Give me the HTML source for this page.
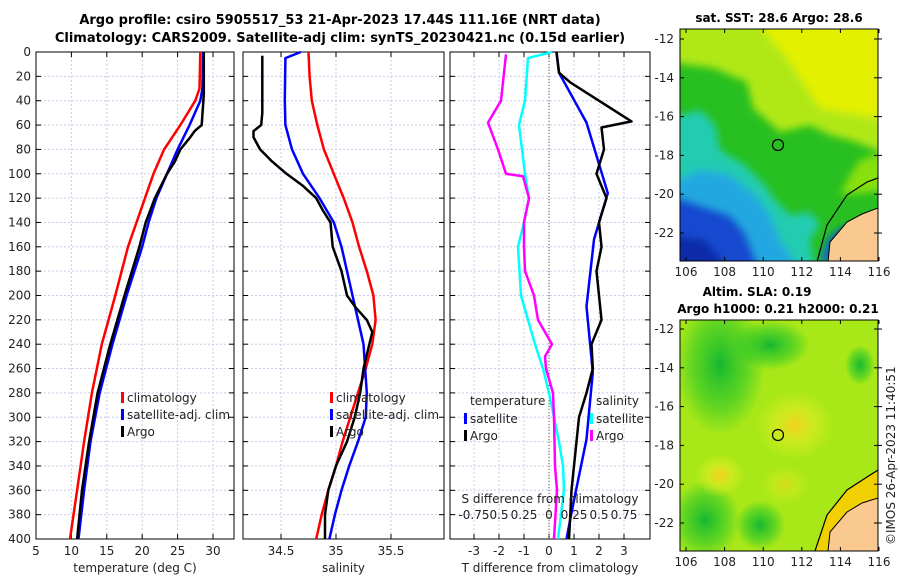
<!DOCTYPE html>
<html><head><meta charset="utf-8"><style>
body{margin:0;background:#fff}
svg{display:block;font-family:"DejaVu Sans","Liberation Sans",sans-serif}
</style></head><body>
<svg id="c" width="900" height="580" xmlns="http://www.w3.org/2000/svg">
<defs>
 <radialGradient id="yb"><stop offset="0" stop-color="#f4d020"/><stop offset="0.5" stop-color="#d8ec20" stop-opacity="0.7"/><stop offset="1" stop-color="#d8ec20" stop-opacity="0"/></radialGradient>
 <radialGradient id="gb"><stop offset="0" stop-color="#14b830"/><stop offset="0.6" stop-color="#30c828" stop-opacity="0.6"/><stop offset="1" stop-color="#30c828" stop-opacity="0"/></radialGradient>
 <filter id="blur" x="-10%" y="-10%" width="120%" height="120%"><feGaussianBlur stdDeviation="4"/></filter>
 <clipPath id="m1c"><rect x="680" y="29" width="198" height="232"/></clipPath>
 <clipPath id="m2c"><rect x="680" y="320" width="198" height="231"/></clipPath>
</defs>
<g id="titles">
 <text x="340" y="24" text-anchor="middle" font-size="13" font-weight="bold">Argo profile: csiro 5905517_53 21-Apr-2023 17.44S 111.16E (NRT data)</text>
 <text x="340" y="42" text-anchor="middle" font-size="13" font-weight="bold">Climatology: CARS2009. Satellite-adj clim: synTS_20230421.nc (0.15d earlier)</text>
</g>
<g id="p1"></g><g id="p2"></g><g id="p3"></g>
<g id="map1">
 <g clip-path="url(#m1c)">
  <rect x="670" y="20" width="220" height="250" fill="#28c020"/>
  <g filter="url(#blur)">
   <polygon points="670,20 890,20 890,155 850,140 830,135 810,125 780,132 753,108 747,82 713,68 670,62" fill="#b0e818"/>
   <polygon points="755,20 890,20 890,118 877,118 820,108 787,58" fill="#e4f000"/>
   <polygon points="890,150 860,160 850,175 840,195 890,190" fill="#88e010"/>
   <polygon points="670,118 700,110 715,125 720,150 745,165 765,185 775,200 790,215 810,212 820,225 810,240 815,270 670,270" fill="#22ccb0"/>
   <polygon points="670,185 700,170 730,175 755,195 770,215 780,240 800,270 670,270" fill="#22a8e0"/>
   <polygon points="670,195 700,205 730,215 745,232 760,270 670,270" fill="#1448d0"/>
   <polygon points="670,235 705,240 730,270 670,270" fill="#0a2aa8"/>
   <polygon points="820,262 828,238 845,225 850,240 830,262" fill="#1060d0"/>
  </g>
  <path d="M828,262 L830,242 L847,222 L862,214 L878,208 L878,262 Z" fill="#f9c98f"/>
  <path d="M828,262 L830,242 L847,222 L862,214 L878,208" fill="none" stroke="#000" stroke-width="1"/>
  <path d="M817,262 L827,225 L847,195 L867,182 L878,178" fill="none" stroke="#000" stroke-width="1.2"/>
 </g>
 <rect x="680" y="29" width="198" height="232" fill="none" stroke="#000"/>
 <circle cx="778" cy="145" r="5.5" fill="none" stroke="#000" stroke-width="1.2"/>
 <text x="779" y="22" text-anchor="middle" font-size="12" font-weight="bold">sat. SST: 28.6 Argo: 28.6</text>
</g>
<g id="map2">
 <g clip-path="url(#m2c)">
  <rect x="680" y="320" width="198" height="231" fill="#a8e818"/>
  <ellipse cx="720" cy="365" rx="45" ry="70" fill="url(#gb)"/>
  <ellipse cx="770" cy="345" rx="40" ry="25" fill="url(#gb)"/>
  <ellipse cx="705" cy="520" rx="35" ry="40" fill="url(#gb)"/>
  <ellipse cx="760" cy="525" rx="25" ry="25" fill="url(#gb)"/>
  <ellipse cx="860" cy="365" rx="15" ry="20" fill="url(#gb)"/>
  <ellipse cx="795" cy="425" rx="40" ry="35" fill="url(#yb)"/>
  <ellipse cx="720" cy="475" rx="25" ry="22" fill="url(#yb)"/>
  <ellipse cx="785" cy="485" rx="25" ry="20" fill="url(#yb)" opacity="0.6"/>
  <path d="M815,551 L827,515 L847,490 L867,477 L878,470 L878,551 Z" fill="#f0d000"/>
  <path d="M828,551 L830,532 L847,512 L862,503 L878,498 L878,551 Z" fill="#f9c98f"/>
  <path d="M828,551 L830,532 L847,512 L862,503 L878,498" fill="none" stroke="#000" stroke-width="1"/>
  <path d="M815,551 L827,515 L847,490 L867,477 L878,470" fill="none" stroke="#000" stroke-width="1.2"/>
 </g>
 <rect x="680" y="320" width="198" height="231" fill="none" stroke="#000"/>
 <circle cx="778" cy="435" r="5.5" fill="none" stroke="#000" stroke-width="1.2"/>
 <text x="757" y="296" text-anchor="middle" font-size="12" font-weight="bold">Altim. SLA: 0.19</text>
 <text x="778" y="313" text-anchor="middle" font-size="12" font-weight="bold">Argo h1000: 0.21 h2000: 0.21</text>
</g>
<g id="mapticks"></g>
<text transform="translate(895,545) rotate(-90)" font-size="12" fill="#222">©IMOS 26-Apr-2023 11:40:51</text>
</svg>
<script>
const depths=[0,20,40,60,80,100,120,140,160,180,200,220,240,260,280,300,320,340,360,380,400];
const tempClimD=[0,30,40,60,80,100,120,140,160,200,240,280,320,360,400];
const tempClim=[28.2,28.1,27.5,25.4,23.1,21.6,20.4,19.2,18.0,16.2,14.3,12.9,11.8,10.8,9.8];
const tempSatD=[0,30,40,60,80,100,120,140,160,200,240,280,320,360,400];
const tempSat=[28.6,28.5,28.2,26.7,25.0,23.5,22.0,20.9,20.0,17.8,15.8,14.0,12.7,11.8,11.0];
const tempArgoD=[0,35,60,65,70,80,90,100,120,140,160,200,240,280,320,360,400];
const tempArgo=[28.7,28.7,28.4,27.4,26.8,25.4,24.6,23.5,21.8,20.5,19.6,17.5,15.5,13.7,12.5,11.5,10.8];
const salClimD=[0,20,40,60,80,100,120,140,160,180,200,220,240,260,280,300,320,340,360,380,400];
const salClim=[34.75,34.76,34.78,34.83,34.89,34.98,35.07,35.15,35.21,35.28,35.34,35.36,35.33,35.27,35.2,35.13,35.06,35.0,34.93,34.87,34.82];
const salSatD=[0,5,40,60,80,100,120,140,160,180,200,240,280,300,320,340,360,380,400];
const salSat=[34.68,34.54,34.535,34.54,34.6,34.7,34.85,34.98,35.05,35.1,35.15,35.25,35.28,35.27,35.2,35.12,35.05,34.99,34.94];
const salArgoD=[3,50,60,65,70,80,90,100,110,120,130,140,160,180,200,210,220,230,260,280,300,320,340,360,380,400];
const salArgo=[34.33,34.33,34.32,34.25,34.25,34.31,34.42,34.55,34.7,34.82,34.88,34.95,34.97,35.05,35.1,35.18,35.28,35.33,35.25,35.22,35.17,35.1,35.0,34.93,34.9,34.9];
const dTSatD=[0,17,58,116,154,209,263,318,373,400];
const dTSat=[0.3,0.4,1.5,2.35,1.8,1.5,1.75,1.5,0.95,0.7];
const dTArgoD=[0,17,25,57,62,80,100,120,140,160,180,200,220,240,260,280,300,320,340,360,380,400];
const dTArgo=[0.3,0.4,0.85,3.3,2.1,2.2,1.9,2.3,2.0,2.1,1.9,2.0,2.1,1.7,1.75,1.5,1.2,1.1,1.0,0.9,0.85,0.8];
const dSArgoD=[2,40,58,80,100,102,120,140,160,180,200,220,240,250,260,280,300,340,360,400];
const dSArgo=[-0.43,-0.48,-0.61,-0.51,-0.43,-0.26,-0.2,-0.25,-0.25,-0.24,-0.15,-0.11,0.03,-0.04,-0.03,0.04,0.05,0.06,0.08,0.05];
const dSSatD=[0,5,40,60,100,120,140,160,200,240,260,280,300,320,340,360,400];
const dSSat=[0.03,-0.21,-0.24,-0.3,-0.24,-0.2,-0.25,-0.31,-0.28,-0.14,-0.06,0,0.05,0.1,0.14,0.15,0.09];
const tTicks=[5,10,15,20,25,30];
const sTicks=[34.5,35,35.5];
const dTicks=[-3,-2,-1,0,1,2,3];
const sDiffTickLabels=["-0.75","0.5","0.25","0","0.25","0.5","0.75"];
const depthTicks=[0,20,40,60,80,100,120,140,160,180,200,220,240,260,280,300,320,340,360,380,400];
const lonTicks=[106,108,110,112,114,116];
const latTicks=[-12,-14,-16,-18,-20,-22];

const NS="http://www.w3.org/2000/svg";
const top0=52,bot=539;
const yD=d=>top0+d*(bot-top0)/400;
function el(tag,attrs,parent,txt){const e=document.createElementNS(NS,tag);for(const k in attrs)e.setAttribute(k,attrs[k]);if(txt!==undefined)e.textContent=txt;parent.appendChild(e);return e;}
function panel(g,x0,x1,xs,ticks,fmt,label,showY){
  ticks.forEach(t=>{const x=xs(t);
    const l=el('line',{x1:x,x2:x,y1:top0,y2:bot,stroke:'#c8cce8','stroke-dasharray':'2,2'},g);
    
    el('line',{x1:x,x2:x,y1:bot,y2:bot-5,stroke:'#000'},g);el('line',{x1:x,x2:x,y1:top0,y2:top0+5,stroke:'#000'},g);
    const tx=el('text',{x:x,y:bot+16,'text-anchor':'middle','font-size':12,fill:'#222'},g,fmt(t));
    });
  depthTicks.forEach(d=>{const y=yD(d);
    el('line',{x1:x0,x2:x1,y1:y,y2:y,stroke:'#c8cce8','stroke-dasharray':'2,2'},g);
    el('line',{x1:x0,x2:x0+5,y1:y,y2:y,stroke:'#000'},g);el('line',{x1:x1-5,x2:x1,y1:y,y2:y,stroke:'#000'},g);
    if(showY){const tx=el('text',{x:x0-5,y:y+4,'text-anchor':'end','font-size':12,fill:'#222'},g,String(d));
      }});
  const fr=el('rect',{x:x0,y:top0,width:x1-x0,height:bot-top0,fill:'none',stroke:'#000'},g);
  
  const lb=el('text',{x:(x0+x1)/2,y:bot+33,'text-anchor':'middle','font-size':12,fill:'#222'},g,label);
  
}
function line(g,xs,vals,ds,col,name){
  const p=vals.map((v,i)=>(i?'L':'M')+xs(v).toFixed(1)+','+yD(ds[i]).toFixed(1)).join('');
  const e=el('path',{d:p,fill:'none',stroke:col,'stroke-width':2.5,'stroke-linejoin':'round'},g);
  
}
function legend(g,x,y,items){items.forEach((it,i)=>{
  el('rect',{x:x,y:y+i*17-9,width:3,height:11,fill:it[1]},g);
  const t=el('text',{x:x+6,y:y+i*17+1,'font-size':12,fill:'#222'},g,it[0]);
  });}

const g1=document.getElementById('p1');
const xT=t=>36+(t-5)*(213-36)/25;
panel(g1,36,234,xT,tTicks,String,'temperature (deg C)',true);
line(g1,xT,tempClim,tempClimD,'#ff0000','temp-climatology-line');
line(g1,xT,tempSat,tempSatD,'#0000ff','temp-satellite-line');
line(g1,xT,tempArgo,tempArgoD,'#000','temp-argo-line');
legend(g1,121,401,[['climatology','#ff0000'],['satellite-adj. clim','#0000ff'],['Argo','#000']]);
const g2=document.getElementById('p2');
const xS=s=>336+(s-35)*110;
panel(g2,243,444,xS,sTicks,String,'salinity',false);
line(g2,xS,salClim,salClimD,'#ff0000','sal-climatology-line');
line(g2,xS,salSat,salSatD,'#0000ff','sal-satellite-line');
line(g2,xS,salArgo,salArgoD,'#000','sal-argo-line');
legend(g2,330,401,[['climatology','#ff0000'],['satellite-adj. clim','#0000ff'],['Argo','#000']]);
const g3=document.getElementById('p3');
const xDT=t=>549+t*25;const xDS=s=>549+s*100;
panel(g3,450,650,xDT,dTicks,String,'T difference from climatology',false);
el('line',{x1:549,x2:549,y1:top0,y2:bot,stroke:'#554',"stroke-dasharray":"1,2"},g3);
line(g3,xDS,dSSat,dSSatD,'#00ffff','sdiff-satellite-line');
line(g3,xDS,dSArgo,dSArgoD,'#ff00ff','sdiff-argo-line');
line(g3,xDT,dTSat,dTSatD,'#0000ff','tdiff-satellite-line');
line(g3,xDT,dTArgo,dTArgoD,'#000','tdiff-argo-line');
const tl=el('text',{x:470,y:405,'font-size':12,fill:'#222'},g3,'temperature');

legend(g3,464,422,[['satellite','#0000ff'],['Argo','#000']]);
const sl=el('text',{x:596,y:405,'font-size':12,fill:'#222'},g3,'salinity');

legend(g3,590,422,[['satellite','#00ffff'],['Argo','#ff00ff']]);
const st=el('text',{x:550,y:503,'text-anchor':'middle','font-size':12,fill:'#222'},g3,'S difference from climatology');

dTicks.forEach((t,i)=>{const x=xDT(t);const e=el('text',{x:x,y:519,'text-anchor':'middle','font-size':12,fill:'#222'},g3,sDiffTickLabels[i]);
  });
const gm=document.getElementById('mapticks');
[[29,261],[320,551]].forEach(([y0,y1],mi)=>{
  const lat12=mi?329:39,lat22=mi?523:233;
  lonTicks.forEach(l=>{const x=686+(l-106)*(879-686)/10;
    el('line',{x1:x,x2:x,y1:y1,y2:y1-4,stroke:'#000'},gm);el('line',{x1:x,x2:x,y1:y0,y2:y0+4,stroke:'#000'},gm);
    const t=el('text',{x:x,y:y1+15,'text-anchor':'middle','font-size':12,fill:'#222'},gm,String(l));
    });
  latTicks.forEach(l=>{const y=lat12+(-12-l)*(lat22-lat12)/10;
    el('line',{x1:680,x2:684,y1:y,y2:y,stroke:'#000'},gm);el('line',{x1:874,x2:878,y1:y,y2:y,stroke:'#000'},gm);
    el('line',{x1:878,x2:882,y1:y,y2:y,stroke:'#000'},gm);
    const t=el('text',{x:674,y:y+4,'text-anchor':'end','font-size':12,fill:'#222'},gm,String(l));
    });
});
</script>
</body></html>
